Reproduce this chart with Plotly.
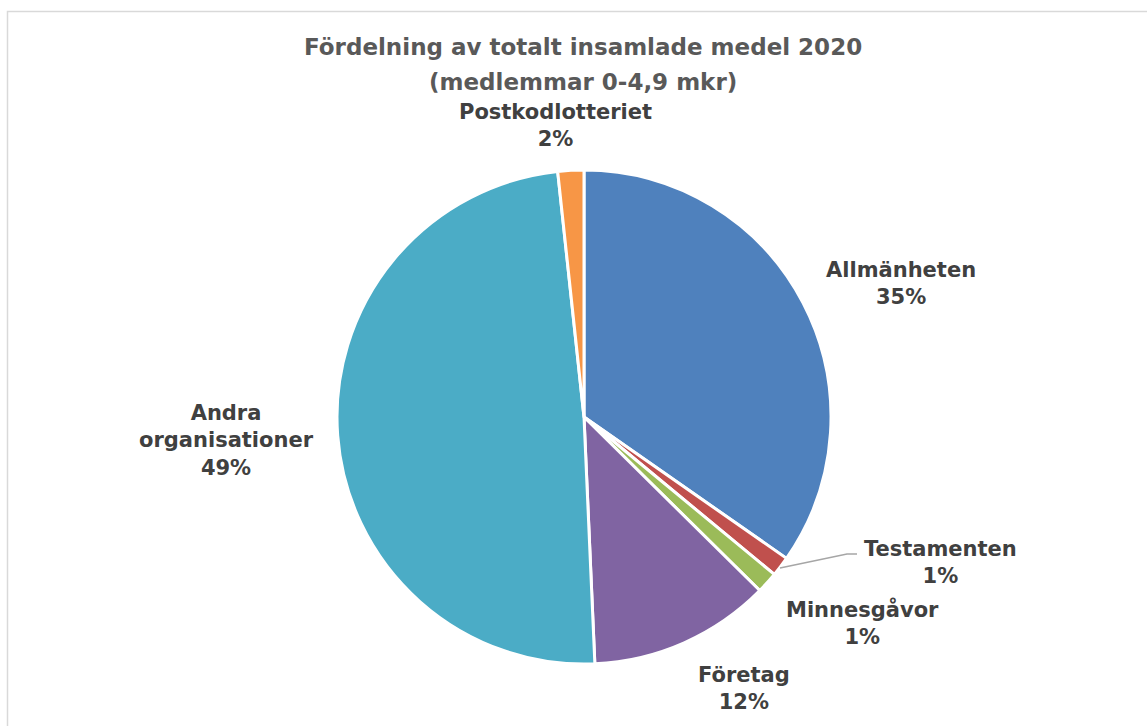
import plotly.graph_objects as go

W, H = 1147, 726

# Share of total collected funds, 2020 (members 0-4.9 MSEK)
categories = ["Allmänheten", "Testamenten", "Minnesgåvor", "Företag",
              "Andra<br>organisationer", "Postkodlotteriet"]
shares = [34.7, 1.3, 1.4, 11.9, 49.0, 1.7]
colors = ["#4F81BD", "#C0504D", "#9BBB59", "#8064A2", "#4BACC6", "#F79646"]

# label anchor points in pixels (centre of each label block)
label_pos = [(901, 284), (940, 562), (863, 623), (744, 688), (226, 440), (555, 126)]

FONT = "DejaVu Sans"


def px(x):
    return x / W


def py(y):
    return 1 - y / H


total = sum(shares)
pct_text = [f"{round(v / total * 100)}%" for v in shares]

cx, cy, r = 584, 417, 247

fig = go.Figure(go.Pie(
    labels=categories,
    values=shares,
    sort=False,
    direction="clockwise",
    rotation=0,
    textinfo="none",
    hoverinfo="label+percent",
    marker=dict(colors=colors, line=dict(color="white", width=3)),
    domain=dict(x=[px(cx - r), px(cx + r)], y=[py(cy + r), py(cy - r)]),
    showlegend=False,
))

annotations = []
for name, pct, (x, y) in zip(categories, pct_text, label_pos):
    annotations.append(dict(
        x=px(x), y=py(y), xref="paper", yref="paper",
        text=f"<b>{name}<br>{pct}</b>", showarrow=False,
        xanchor="center", yanchor="middle", align="center",
        font=dict(family=FONT, size=21, color="#404040"),
    ))

# chart title, two lines
for line, y in [("Fördelning av totalt insamlade medel 2020", 47),
                ("(medlemmar 0-4,9 mkr)", 82)]:
    annotations.append(dict(
        x=px(583), y=py(y), xref="paper", yref="paper",
        text=f"<b>{line}</b>", showarrow=False,
        xanchor="center", yanchor="middle",
        font=dict(family=FONT, size=23, color="#595959"),
    ))

shapes = [
    # chart area frame
    dict(type="rect", xref="paper", yref="paper",
         x0=px(7.5), x1=px(W + 10), y0=py(H + 10), y1=py(11.5),
         line=dict(color="#D9D9D9", width=1.5), fillcolor="rgba(0,0,0,0)"),
    # leader line to the Testamenten label
    dict(type="path", xref="paper", yref="paper",
         path=f"M {px(780)} {py(568)} L {px(847)} {py(554)} L {px(857)} {py(554)}",
         line=dict(color="#A6A6A6", width=1.5)),
]

fig.update_layout(
    width=W, height=H,
    margin=dict(l=0, r=0, t=0, b=0),
    paper_bgcolor="white",
    plot_bgcolor="white",
    annotations=annotations,
    shapes=shapes,
)

fig.write_html("out.html")
